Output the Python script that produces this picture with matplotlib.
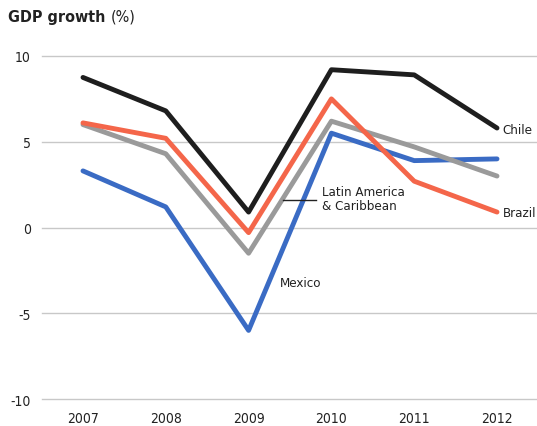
#!/usr/bin/env python
import matplotlib
matplotlib.use("Agg")
import matplotlib.pyplot as plt

plt.rcParams['font.family'] = ['DejaVu Sans']
plt.rcParams['font.stretch'] = 'condensed'
plt.rcParams['axes.unicode_minus'] = False

years = [2007, 2008, 2009, 2010, 2011, 2012]
chile = [8.75, 6.8, 0.9, 9.2, 8.9, 5.8]
brazil = [6.1, 5.2, -0.3, 7.5, 2.7, 0.9]
latam = [6.0, 4.3, -1.5, 6.2, 4.7, 3.0]
mexico = [3.3, 1.2, -6.0, 5.5, 3.9, 4.0]
yticks = [-10, -5, 0, 5, 10]

fig = plt.figure(figsize=(5.37, 4.27), dpi=100)
ax = fig.add_axes([42 / 537, 27 / 427, 495 / 537, 343 / 427])

for y in yticks:
    ax.axhline(y, color="#c8c8c8", lw=1, zorder=0, clip_on=False)

ax.plot(years, mexico, color="#3a6bc4", lw=3.5, solid_capstyle="round")
ax.plot(years, latam, color="#9a9a9a", lw=3.5, solid_capstyle="round")
ax.plot(years, brazil, color="#f4664a", lw=3.5, solid_capstyle="round")
ax.plot(years, chile, color="#1e1e1e", lw=3.5, solid_capstyle="round")

ax.set_xlim(2006.505, 2012.483)
ax.set_ylim(-10, 10)
ax.set_xticks(years)
ax.set_yticks(yticks)
ax.tick_params(length=0, labelsize=10, colors="#222222")
ax.tick_params(axis="x", pad=9)
ax.tick_params(axis="y", pad=8)
for s in ax.spines.values():
    s.set_visible(False)

fs = 9.5
ax.text(2012.07, 5.7, "Chile", fontsize=fs, va="center", ha="left", color="#222222")
ax.text(2012.07, 0.9, "Brazil", fontsize=fs, va="center", ha="left", color="#222222")
ax.text(2009.38, -3.2, "Mexico", fontsize=fs, va="center", ha="left", color="#222222")
ax.text(2009.89, 1.7, "Latin America\n& Caribbean", fontsize=fs, va="center",
        ha="left", color="#222222", linespacing=1.1)
ax.plot([2009.415, 2009.81], [1.63, 1.63], color="#222222", lw=1)

t = fig.text(8 / 537, 1 - 22 / 427, "GDP growth", fontsize=11.5, fontweight="bold",
             color="#222222", va="baseline")
ax.annotate("(%)", xy=(1, 0), xycoords=t, xytext=(4, 0), textcoords="offset points",
            fontsize=11.5, color="#222222", va="bottom", annotation_clip=False)

fig.savefig("out.png", dpi=100)
